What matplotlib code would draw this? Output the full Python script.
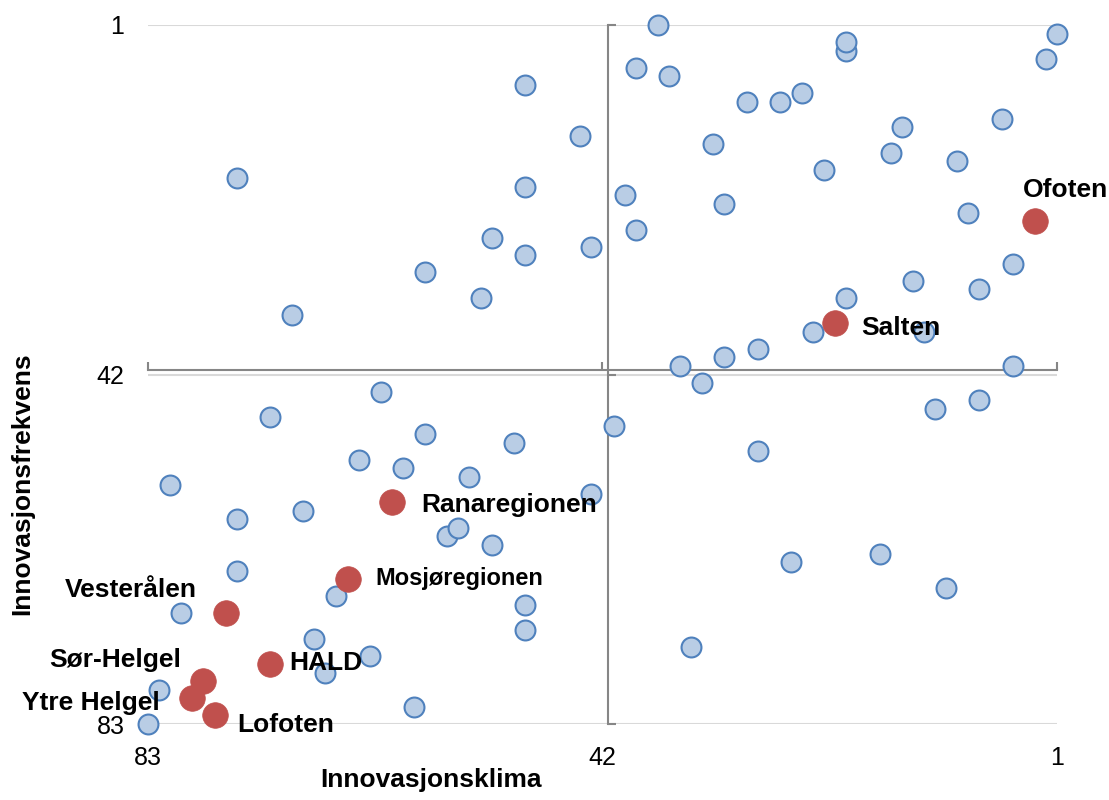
#!/usr/bin/env python3
import numpy as np
import matplotlib
matplotlib.use("Agg")
import matplotlib.pyplot as plt

plt.rcParams["font.family"] = ["Liberation Sans", "DejaVu Sans"]

# rangering (1 = best) for alle regioner
blue_x = [37, 1, 20, 20, 2, 39, 36, 49, 24, 29, 26, 6, 15, 44, 32, 16, 10, 22, 75,
          49, 40, 31, 9, 39, 52, 43, 49, 5, 58, 14, 8, 20, 53, 70, 23, 13, 28, 31,
          35, 5, 33, 62, 8, 12, 72, 41, 58, 50, 28, 64, 60, 54, 81, 43, 69, 75, 55,
          56, 52, 17, 25, 75, 11, 66, 49, 80, 49, 68, 34, 63, 67, 82, 59, 83]
blue_y = [1, 2, 3, 4, 5, 6, 7, 8, 9, 10, 10, 12, 13, 14, 15, 16, 17, 18, 19,
          20, 21, 22, 23, 25, 26, 27, 28, 29, 30, 31, 32, 33, 33, 35, 37, 37, 39, 40,
          41, 41, 43, 44, 45, 46, 47, 48, 49, 50, 51, 52, 53, 54, 55, 56, 58, 59, 60,
          61, 62, 63, 64, 65, 67, 68, 69, 70, 72, 73, 74, 75, 77, 79, 81, 83]

red_names = ["Ofoten", "Salten", "Ranaregionen", "Mosjøregionen", "Vesterålen",
             "HALD", "Sør-Helgel", "Ytre Helgel", "Lofoten"]
red_x = [3, 21, 61, 65, 76, 72, 78, 79, 77]
red_y = [24, 36, 57, 66, 70, 76, 78, 80, 82]

ticks = [83, 42, 1]
cross = 41.5

# label offset in pixels (dx, dy up), alignment, size
px = 0.72
label_style = {
    "Ofoten":        (-11.7, 24, "left", 19),
    "Salten":        (25.7, -12, "left", 19),
    "Ranaregionen":  (29, -10, "left", 19),
    "Mosjøregionen": (27.7, -6, "left", 17),
    "Vesterålen":    (-28.3, 16, "right", 19),
    "HALD":          (19, -6, "left", 19),
    "Sør-Helgel":    (-22.7, 14, "right", 19),
    "Ytre Helgel":   (-33, -12, "right", 19),
    "Lofoten":       (22.7, -17, "left", 19),
}

fig = plt.figure(figsize=(11.09, 8), dpi=100)
ax = fig.add_axes([148 / 1109, 1 - 724 / 800, (1057 - 148) / 1109, (724 - 25) / 800])

bx = np.array(blue_x)
by = np.array(blue_y)
order = np.argsort(-by, kind="stable")
ax.scatter(bx[order], by[order], s=205, color="#B9CDE5", edgecolor="#4F81BD",
           linewidth=1.5, zorder=3, clip_on=False)
ax.scatter(red_x, red_y, s=340, color="#C0504D", edgecolor="#C0504D",
           linewidth=0.5, zorder=4, clip_on=False)

for name, x, y in zip(red_names, red_x, red_y):
    dx, dy, ha, fs = label_style[name]
    ax.annotate(name, (x, y), xytext=(dx * px, dy * px), textcoords="offset points",
                ha=ha, va="baseline", fontsize=fs, fontweight="bold", zorder=5)

ax.set_xlim(83, 1)
ax.set_ylim(83, 1)
ax.set_xticks(ticks)
ax.set_yticks(ticks)

for side in ["left", "bottom"]:
    ax.spines[side].set_visible(False)
ax.spines["top"].set_position(("data", cross))
ax.spines["right"].set_position(("data", cross))
for side in ["top", "right"]:
    ax.spines[side].set_color("#868686")
    ax.spines[side].set_linewidth(1.5)

ax.tick_params(axis="x", top=True, bottom=False, labeltop=False, labelbottom=True,
               direction="out", length=5.5, width=1.5, color="#868686",
               pad=10, labelsize=18)
ax.tick_params(axis="y", right=True, left=False, labelright=False, labelleft=True,
               direction="out", length=5.5, width=1.5, color="#868686",
               pad=11.5, labelsize=18)

ax.yaxis.grid(True, color="#D9D9D9", lw=1.5)
ax.xaxis.grid(False)
ax.set_axisbelow(True)

fig.text(431 / 1109, 1 - 787 / 800, "Innovasjonsklima", ha="center", va="baseline",
         fontsize=19, fontweight="bold")
fig.text(22.5 / 1109, 1 - 484 / 800, "Innovasjonsfrekvens", ha="center", va="center",
         rotation=90, fontsize=19, fontweight="bold")

fig.savefig("out.png", dpi=100)
